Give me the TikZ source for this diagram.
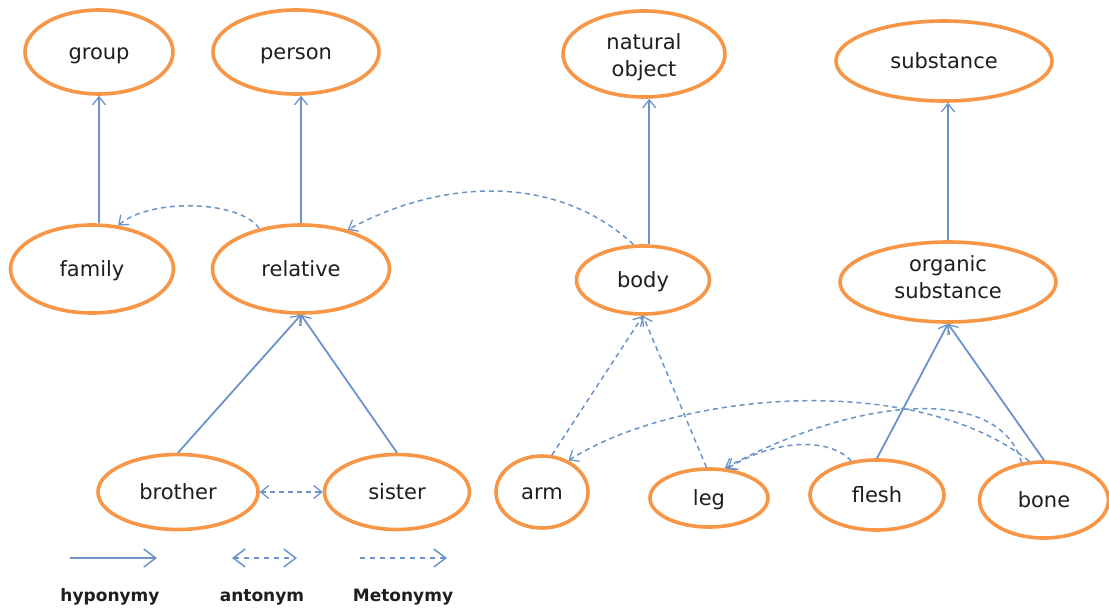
\documentclass[tikz,border=0pt]{standalone}
\usepackage{fontspec}
\setmainfont{DejaVu Sans}
\usetikzlibrary{shapes.geometric,arrows.meta}
\definecolor{ringorange}{HTML}{F79646}
\definecolor{linkblue}{HTML}{6A93CC}
\definecolor{ink}{HTML}{1E1E1E}

% two-line label, lowered by #1 without changing the node size
\newcommand{\twolines}[3]{\raisebox{#1}[0pt][0pt]{\begin{tabular}{@{}c@{}}#2\\#3\end{tabular}}}

\begin{document}
\begin{tikzpicture}[x=1pt,y=-1pt,
  concept/.style={ellipse, draw=ringorange, line width=3.6pt, fill=white,
    inner sep=0pt, text=ink,
    font=\fontsize{21}{27}\selectfont},
  oneline/.style={text height=15pt, text depth=0pt},
  tip/.tip={Straight Barb[length=8pt,width=13pt,line width=1.3pt]},
  bigtip/.tip={Straight Barb[length=12pt,width=18pt,line width=1.5pt]},
  hypo/.style={draw=linkblue, line width=1.8pt, -tip},
  meto/.style={draw=linkblue, line width=1.5pt, dash pattern=on 5pt off 4pt, -tip},
  anto/.style={draw=linkblue, line width=1.5pt, dash pattern=on 5pt off 4pt, tip-tip},
  keyline/.style={draw=linkblue, line width=2pt},
  legendtext/.style={font=\fontsize{17}{20}\selectfont\bfseries, text=ink}
]
\useasboundingbox (0,0) rectangle (1109,610);

% concepts
\node[concept, oneline, minimum width=148pt, minimum height=84pt] (group)     at (99,52)   {group};
\node[concept, oneline, minimum width=166pt, minimum height=84pt] (person)    at (296,52)  {person};
\node[concept, minimum width=162pt, minimum height=86pt] (natobj)    at (644,54)  {\twolines{-9pt}{natural}{object}};
\node[concept, oneline, minimum width=216pt, minimum height=80pt] (substance) at (944,61)  {substance};
\node[concept, oneline, minimum width=163pt, minimum height=88pt] (family)    at (92,269)  {family};
\node[concept, oneline, minimum width=177pt, minimum height=88pt] (relative)  at (301,269) {relative};
\node[concept, oneline, minimum width=133pt, minimum height=68pt] (body)      at (643,280) {body};
\node[concept, minimum width=216pt, minimum height=80pt] (organic)   at (948,282) {\twolines{-3pt}{organic}{substance}};
\node[concept, oneline, minimum width=160pt, minimum height=75pt] (brother)   at (178,492) {brother};
\node[concept, oneline, minimum width=145pt, minimum height=75pt] (sister)    at (397,492) {sister};
\node[concept, oneline, minimum width=92pt,  minimum height=72pt] (arm)       at (542,492) {arm};
\node[concept, oneline, minimum width=118pt, minimum height=58pt] (leg)       at (709,498) {leg};
\node[concept, oneline, minimum width=134pt, minimum height=70pt] (flesh)     at (877,495) {flesh};
\node[concept, oneline, minimum width=129pt, minimum height=76pt] (bone)      at (1044,500) {bone};

% hyponymy
\draw[hypo] (group.south |- family.north) -- (group.south);
\draw[hypo] (relative.north) -- (relative.north |- person.south);
\draw[hypo] (body.80) -- (body.80 |- natobj.south);
\draw[hypo] (organic.north) -- (organic.north |- substance.south);
\draw[hypo] (brother.north) -- (relative.south);
\draw[hypo] (sister.north) -- (relative.south);
\draw[hypo] (flesh.north) -- (organic.south);
\draw[hypo] (bone.north) -- (organic.south);

% metonymy
\draw[meto] (relative.136) .. controls (240,200) and (150,198) .. (family.59);
\draw[meto] (body.105) .. controls (560,176) and (447,176) .. (relative.40);
\draw[meto] (arm.75) -- (body.south);
\draw[meto] (leg.95) -- (body.south);
\draw[meto] (flesh.127) .. controls (830,438) and (777,438) .. (leg.58);
\draw[meto] (bone.121) .. controls (1000,385) and (860,395) .. (leg.62);
\draw[meto] (bone.111) .. controls (918,372) and (680,390) .. (arm.50);

% antonymy
\draw[anto] (brother.east) -- (sister.west);

% legend
\coordinate (hypoA) at (70,558);
\coordinate (hypoB) at (157,558);
\coordinate (antoA) at (232,558);
\coordinate (antoB) at (297,558);
\coordinate (metoA) at (360,558);
\coordinate (metoB) at (447,558);
\draw[keyline, -bigtip] (hypoA) -- (hypoB);
\draw[keyline, dash pattern=on 5pt off 5pt, bigtip-bigtip] (antoA) -- (antoB);
\draw[keyline, dash pattern=on 5pt off 5pt, -bigtip] (metoA) -- (metoB);
\node[legendtext] (hypolabel) at (110,597) {hyponymy};
\node[legendtext] (antolabel) at (262,597) {antonym};
\node[legendtext] (metolabel) at (403,597) {Metonymy};
\end{tikzpicture}
\end{document}
